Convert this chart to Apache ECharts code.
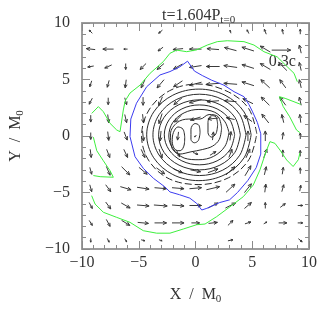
<!DOCTYPE html>
<html>
<head>
<meta charset="utf-8">
<script src="https://cdn.jsdelivr.net/npm/echarts@6/dist/echarts.min.js"></script>
<style>
  html, body { margin: 0; padding: 0; background: #fff; }
  #chart { width: 332px; height: 332px; }
</style>
</head>
<body>
<div id="chart"></div>
<script>
// vector grid (cell centres, in M0)
const gridX = [-9.23, -7.69, -6.15, -4.62, -3.08, -1.54, 0, 1.54, 3.08, 4.62, 6.15, 7.69, 9.23];
const gridY = [9.23, 7.69, 6.15, 4.62, 3.08, 1.54, 0, -1.54, -3.08, -4.62, -6.15, -7.69, -9.23];

// velocity components in units of c, one row per gridY
const velX = [
  [-0.05, 0, 0, 0, -0.06, 0, 0, 0, -0.016, -0.03, -0.03, -0.016, 0],
  [-0.14, -0.17, -0.06, 0, -0.08, -0.16, -0.19, -0.19, -0.19, -0.19, -0.16, 0, -0.03],
  [-0.095, -0.11, 0, -0.095, -0.11, -0.14, -0.19, -0.21, -0.21, -0.19, -0.16, -0.13, -0.03],
  [-0.03, -0.03, -0.016, -0.06, -0.11, -0.14, -0.19, -0.21, -0.21, -0.19, -0.14, -0.095, -0.03],
  [-0.05, 0, 0.03, 0, -0.06, -0.13, -0.19, -0.19, -0.19, -0.16, -0.13, -0.095, -0.03],
  [0, 0.016, 0.03, 0.016, -0.05, -0.11, -0.16, -0.16, -0.13, -0.13, -0.11, -0.03, -0.016],
  [0, 0.016, 0.05, 0.016, -0.016, -0.016, -0.03, 0.016, 0.016, 0, 0, 0.016, 0],
  [0.016, 0.05, 0.06, 0.06, 0.05, 0.05, 0.08, 0.095, 0.05, 0.06, 0.05, 0, 0],
  [0.03, 0.06, 0.13, 0.13, 0.13, 0.14, 0.16, 0.16, 0.14, 0.095, 0.03, 0.016, 0],
  [0.03, 0.08, 0.17, 0.19, 0.19, 0.19, 0.19, 0.21, 0.14, 0.11, 0.016, 0.03, 0.016],
  [0.05, 0.08, 0.14, 0.19, 0.21, 0.19, 0.19, 0.16, 0.16, 0.11, 0, 0.08, 0.08],
  [0.05, 0.06, 0.13, 0.17, 0.19, 0.19, 0.13, 0.14, 0.08, 0.095, 0.05, 0.13, 0.08],
  [0, 0.03, 0.03, 0.06, 0.05, 0, 0, 0, 0.08, 0, 0, 0, 0.06]
];
const velY = [
  [0.05, 0, 0, 0, -0.05, 0, 0, 0, 0.05, 0.06, 0.08, 0.08, 0.08],
  [0.016, 0, 0, 0, -0.06, -0.016, 0, 0.016, 0.05, 0.06, 0.095, 0, 0.13],
  [-0.016, -0.05, -0.095, -0.095, -0.095, -0.08, -0.03, 0, 0.03, 0.06, 0.095, 0.13, 0.13],
  [-0.095, -0.11, -0.13, -0.13, -0.13, -0.095, -0.05, -0.016, 0.016, 0.06, 0.13, 0.13, 0.13],
  [-0.095, -0.11, -0.11, -0.13, -0.14, -0.11, -0.05, -0.016, 0.016, 0.08, 0.13, 0.13, 0.13],
  [-0.11, -0.13, -0.13, -0.14, -0.16, -0.11, -0.05, -0.016, 0.03, 0.095, 0.14, 0.13, 0.13],
  [-0.11, -0.14, -0.13, -0.16, -0.16, -0.13, -0.03, 0.13, 0.14, 0.16, 0.16, 0.11, 0.095],
  [-0.13, -0.13, -0.13, -0.13, -0.14, -0.11, -0.03, 0.06, 0.13, 0.14, 0.14, 0.11, 0.095],
  [-0.11, -0.14, -0.13, -0.11, -0.095, -0.06, -0.03, 0.06, 0.13, 0.16, 0.13, 0.11, 0.095],
  [-0.11, -0.11, -0.05, -0.03, -0.016, -0.016, 0.016, 0.05, 0.13, 0.14, 0.13, 0.11, 0.095],
  [-0.095, -0.11, -0.08, -0.016, -0.016, -0.016, 0, 0.08, 0.08, 0.095, 0.095, 0.06, 0],
  [-0.08, -0.11, -0.08, -0.016, 0, 0, 0, 0.016, 0.08, 0.03, 0.03, 0, 0],
  [-0.06, -0.06, -0.05, -0.016, -0.016, 0, 0, 0, 0.016, 0, 0, 0, -0.05]
];

// reference arrow (0.3c) and where it sits
const refArrow = [[7.55, 7.6, 0.3, 0]];

const axisTicks = [-10, -5, 0, 5, 10];

// density contours (black)
const densContours = [
  [[5.4,0.2],[4.7,2.4],[2.9,3.9],[0.2,4.6],[-2.3,4.0],[-4.1,2.3],[-4.75,0.0],[-4.1,-2.2],[-2.3,-3.8],[0.3,-4.3],[2.9,-3.7],[4.7,-2.1],[5.4,0.2]],
  [[4.9,0.1],[4.28,2.13],[2.6,3.61],[0.3,4.15],[-2.0,3.61],[-3.68,2.13],[-4.3,0.1],[-3.68,-1.93],[-2.0,-3.41],[0.3,-3.95],[2.6,-3.41],[4.28,-1.93],[4.9,0.1]],
  [[4.45,0.1],[3.9,1.9],[2.4,3.22],[0.35,3.7],[-1.7,3.22],[-3.2,1.9],[-3.75,0.1],[-3.2,-1.7],[-1.7,-3.02],[0.35,-3.5],[2.4,-3.02],[3.9,-1.7],[4.45,0.1]],
  [[3.95,0.1],[3.47,1.65],[2.15,2.78],[0.35,3.2],[-1.45,2.78],[-2.77,1.65],[-3.25,0.1],[-2.77,-1.45],[-1.45,-2.58],[0.35,-3.0],[2.15,-2.58],[3.47,-1.45],[3.95,0.1]],
  [[3.45,0.1],[3.03,1.43],[1.9,2.4],[0.35,2.75],[-1.2,2.4],[-2.33,1.43],[-2.75,0.1],[-2.33,-1.23],[-1.2,-2.2],[0.35,-2.55],[1.9,-2.2],[3.03,-1.23],[3.45,0.1]],
  [[2.95,0.3],[2.6,1.25],[1.7,2.1],[0.3,2.35],[-1.0,2.05],[-2.0,1.2],[-2.35,0.0],[-2.0,-1.1],[-1.0,-1.95],[0.3,-2.1],[1.6,-1.8],[2.6,-0.9],[2.95,0.3]],
  [[2.3,0.7],[2.0,1.7],[1.2,1.9],[0.4,1.5],[-0.6,1.5],[-1.6,1.2],[-2.2,0.2],[-2.1,-1.0],[-1.4,-1.6],[-0.4,-1.4],[0.6,-1.2],[1.5,-0.9],[2.1,-0.3],[2.3,0.7]],
  [[-0.95,-0.1],[-1.1,0.6],[-1.55,0.8],[-1.95,0.3],[-2.05,-0.5],[-1.8,-1.2],[-1.35,-1.3],[-1.0,-0.8],[-0.95,-0.1]],
  [[0.4,0.3],[0.3,0.95],[-0.05,1.1],[-0.4,0.6],[-0.4,-0.3],[-0.1,-0.6],[0.25,-0.4],[0.4,0.3]],
  [[1.95,1.0],[1.8,1.7],[1.4,1.8],[1.1,1.2],[1.1,0.3],[1.4,-0.1],[1.8,0.2],[1.95,1.0]]
];

const blueContour = [[-0.7,6.62],[-0.1,5.75],[0.6,5.35],[1.4,4.95],[2.5,4.5],[3.4,3.92],[4.27,3.48],[4.7,2.8],[5.0,2.2],[5.45,1.2],[5.75,0.2],[5.75,-1.6],[5.35,-2.8],[4.6,-3.95],[3.7,-5.0],[3.0,-5.65],[2.1,-5.9],[1.0,-6.4],[0.55,-6.55],[0.1,-5.96],[-0.5,-5.5],[-1.4,-5.2],[-2.25,-4.95],[-2.7,-4.5],[-3.7,-3.75],[-4.6,-2.86],[-5.33,-1.83],[-5.77,-0.06],[-5.7,1.5],[-5.2,2.9],[-4.3,4.36],[-3.13,5.4],[-2.25,5.7],[-1.37,6.13],[-0.7,6.62]];

const greenContours = [
  [[-9.14,2.0],[-8.56,2.6],[-8.12,2.15],[-7.53,1.12],[-6.94,0.53],[-6.65,0.38],[-6.36,2.3],[-6.2,3.1],[-5.77,3.8],[-4.89,4.5],[-4.0,5.55],[-2.84,6.58],[-2.25,7.32],[-1.66,7.6],[-0.78,7.46],[0.1,7.62],[1.04,8.05],[1.92,8.35],[2.8,8.43],[4.27,8.35],[5.15,8.05],[6.03,7.46],[7.2,7.0],[8.08,6.13],[8.68,5.55],[8.97,4.8]],
  [[-9.0,-0.1],[-8.85,-0.7],[-8.7,-1.3],[-8.12,-2.19],[-7.53,-3.07],[-7.24,-3.65],[-8.4,-3.6],[-9.0,-3.5]],
  [[-9.15,-5.28],[-8.85,-6.02],[-8.12,-6.75],[-6.94,-7.2],[-5.77,-7.64],[-4.6,-8.38],[-3.42,-8.6],[-2.25,-8.6],[-1.07,-8.23],[0.1,-7.85],[0.84,-7.79],[1.86,-7.14],[3.04,-6.26],[4.21,-5.37],[5.09,-4.34],[5.68,-3.0],[5.97,-2.12],[6.27,-1.24],[6.56,-0.5],[7.0,-0.65],[7.44,-1.24],[8.03,-2.12],[8.6,-2.7],[9.06,-2.1],[9.2,-1.5]],
  [[9.27,2.8],[8.68,3.03],[7.9,3.33],[7.4,3.48],[7.73,2.6],[8.3,1.7],[8.9,0.53],[9.2,0.3]]
];

const ARROW_SCALE = 5.58; // M0 per c, so 0.3c ~ 19px
const serif = 'Liberation Serif';

// flatten the grid
const vectors = [];
gridY.forEach((y, j) => {
  gridX.forEach((x, i) => {
    vectors.push([x, y, velX[j][i], velY[j][i]]);
  });
});

function arrowShape(api, x, y, vx, vy, color) {
  const p0 = api.coord([x - vx * ARROW_SCALE / 2, y - vy * ARROW_SCALE / 2]);
  const p1 = api.coord([x + vx * ARROW_SCALE / 2, y + vy * ARROW_SCALE / 2]);
  const ang = Math.atan2(p1[1] - p0[1], p1[0] - p0[0]);
  const len = Math.hypot(p1[0] - p0[0], p1[1] - p0[1]);
  const h = Math.min(4, len * 0.45), a = 0.42;
  const l = [p1[0] - h * Math.cos(ang - a), p1[1] - h * Math.sin(ang - a)];
  const r = [p1[0] - h * Math.cos(ang + a), p1[1] - h * Math.sin(ang + a)];
  return [
    { type: 'line', shape: { x1: p0[0], y1: p0[1], x2: p1[0], y2: p1[1] }, style: { stroke: color, lineWidth: 1 } },
    { type: 'polyline', shape: { points: [l, p1, r] }, style: { stroke: color, lineWidth: 1, fill: null } }
  ];
}

function renderVector(params, api) {
  const vx = api.value(2), vy = api.value(3);
  if (vx === 0 && vy === 0) return null;
  return { type: 'group', children: arrowShape(api, api.value(0), api.value(1), vx, vy, '#3a3a3a') };
}

function renderRef(params, api) {
  const x = api.value(0), y = api.value(1), v = api.value(2);
  const kids = arrowShape(api, x, y, v, 0, '#3a3a3a');
  const c = api.coord([x, y]);
  kids.push({
    type: 'text',
    style: { text: v + 'c', x: c[0] + 1, y: c[1] + 4, align: 'center', verticalAlign: 'top',
             font: '16px "' + serif + '"', fill: '#333' }
  });
  return { type: 'group', children: kids };
}

const minus = v => (v < 0 ? '\u2212' + (-v) : '' + v);
const frame = { color: '#9c9c9c', width: 2 };
const tickStyle = { color: '#8a8a8a', width: 1 };

function makeAxis(pos, showLabel, name) {
  const ax = {
    type: 'value', position: pos, min: -10, max: 10, interval: 5,
    axisLine: { show: true, onZero: false, lineStyle: frame },
    axisTick: { show: true, inside: true, length: 8, lineStyle: tickStyle },
    minorTick: { show: true, splitNumber: 5, length: 4, lineStyle: tickStyle },
    splitLine: { show: false },
    axisLabel: { show: showLabel, formatter: minus, fontFamily: serif, fontSize: 16, color: '#333',
                 margin: pos === 'bottom' ? 6 : 12 }
  };
  if (name) {
    ax.name = name;
    ax.nameLocation = 'middle';
  }
  return ax;
}

const subRich = {
  a: { fontFamily: serif, fontSize: 16, fontWeight: 'normal', color: '#333' },
  s: { fontFamily: serif, fontSize: 11, fontWeight: 'normal', color: '#333', padding: [9, 0, 0, 0] }
};

const xMain = makeAxis('bottom', true, '{a|X  /  M}{s|0}');
xMain.nameGap = 36;
xMain.nameTextStyle = { rich: subRich };
const yMain = makeAxis('left', true, '{a|Y  /  M}{s|0}');
yMain.nameGap = 56;
yMain.nameTextStyle = { rich: subRich };

const series = [];
densContours.forEach((pts, k) => {
  series.push({
    type: 'line', data: pts, smooth: 0.35, showSymbol: false, silent: true,
    lineStyle: { color: '#2a2a2a', width: 1, type: k === 0 ? [7, 3] : 'solid' }
  });
});
series.push({
  type: 'line', data: blueContour, showSymbol: false, silent: true,
  lineStyle: { color: '#3c3cf0', width: 1 }
});
greenContours.forEach(pts => {
  series.push({
    type: 'line', data: pts, showSymbol: false, silent: true,
    lineStyle: { color: '#3ef03e', width: 1 }
  });
});
series.push({ type: 'custom', data: vectors, renderItem: renderVector, encode: { x: 0, y: 1 }, silent: true, clip: true });
series.push({ type: 'custom', data: refArrow, renderItem: renderRef, encode: { x: 0, y: 1 }, silent: true });

const chart = echarts.init(document.getElementById('chart'));
chart.setOption({
  animation: false,
  backgroundColor: '#fff',
  title: {
    text: '{a|t=1.604P}{s|t=0}', left: 157, top: 1,
    textStyle: { fontWeight: 'normal', rich: subRich }
  },
  grid: { left: 82, top: 23, width: 227, height: 226 },
  xAxis: [xMain, makeAxis('top', false)],
  yAxis: [yMain, makeAxis('right', false)],
  series: series
});
</script>
</body>
</html>
